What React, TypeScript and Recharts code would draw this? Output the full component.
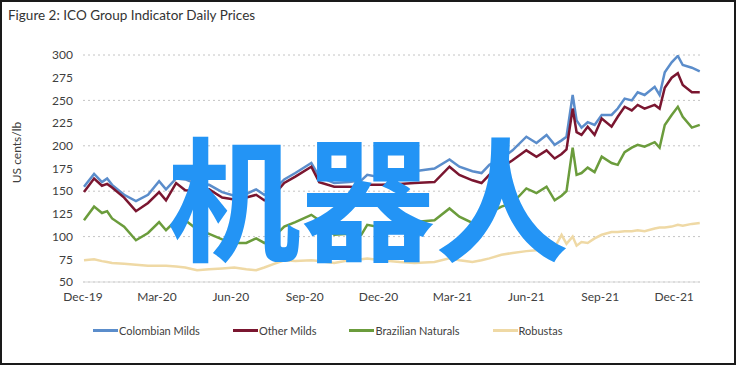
import { LineChart, Line, XAxis, YAxis, CartesianGrid, Legend } from 'recharts';

// months since Dec-19
const months = [
  0.04, 0.45, 0.77, 0.98, 1.18, 1.67, 2.15, 2.64, 3.09, 3.37, 3.78, 4.15, 4.63, 5.12, 5.65, 6.14,
  6.63, 7.03, 7.36, 7.76, 8.17, 8.62, 9.27, 9.59, 10.2, 10.81, 11.3, 11.54, 12.11, 12.85, 13.46,
  14.27, 14.88, 15.28, 15.81, 16.18, 16.5, 16.99, 17.44, 18.0, 18.41, 18.82, 19.15, 19.43, 19.63,
  19.88, 20.04, 20.24, 20.49, 20.77, 21.06, 21.46, 21.71, 21.99, 22.28, 22.52, 22.8, 23.21, 23.41,
  23.62, 23.9, 24.15, 24.35, 24.72, 25.04,
];

const colombianMilds = [
  155, 169, 160, 164, 157, 146, 139, 146, 161, 152, 164, 163, 158, 157, 149, 145,
  147, 152, 146, 152, 163, 170, 181, 166, 159, 160, 162, 168, 165, 168, 172,
  175, 185, 177, 172, 170, 179, 186, 195, 210, 203, 212, 201, 206, 210,
  256, 228, 220, 226, 223, 234, 234, 241, 252, 250, 259, 256, 265, 256,
  281, 292, 299, 289, 286, 282,
];

const otherMilds = [
  149, 164, 156, 158, 154, 143, 128, 137, 149, 140, 159, 151, 150, 152, 143, 141,
  143, 146, 140, 146, 159, 166, 177, 160, 155, 155, 154, 157, 157, 158, 159,
  160, 177, 168, 162, 159, 168, 176, 184, 195, 188, 195, 186, 191, 196,
  241, 215, 212, 221, 212, 230, 221, 232, 243, 239, 245, 241, 245, 241,
  264, 275, 280, 267, 259, 259,
];

const brazilianNaturals = [
  118, 133, 126, 128, 120, 111, 96, 104, 116, 107, 118, 118, 108, 103, 97, 93,
  93, 98, 93, 100, 111, 116, 124, 118, 102, 103, 102, 113, 110, 112, 116,
  118, 131, 122, 115, 117, 126, 133, 137, 153, 148, 155, 140, 145, 150,
  198, 168, 170, 176, 171, 188, 181, 179, 193, 198, 201, 199, 204, 198,
  223, 234, 243, 232, 220, 223,
];

const robustas = [
  74, 75, 73, 72, 71, 70, 69, 68, 68, 68, 67, 66, 63, 64, 65, 66,
  64, 63, 66, 70, 74, 73, 74, 73, 71, 74, 75, 76, 74, 72, 71,
  72, 76, 74, 72, 74, 76, 80, 82, 84, 85, 86, 88, 102, 92,
  100, 90, 94, 93, 98, 102, 105, 105, 106, 106, 107, 106, 109, 110,
  110, 111, 113, 112, 114, 115,
];

const tickMonths = [0, 3, 6, 9, 12, 15, 18, 21, 24];
const tickLabels = ['Dec-19', 'Mar-20', 'Jun-20', 'Sep-20', 'Dec-20', 'Mar-21', 'Jun-21', 'Sep-21', 'Dec-21'];
const yTicks = [50, 75, 100, 125, 150, 175, 200, 225, 250, 275, 300];

const SERIES = [
  { key: 'colombian', name: 'Colombian Milds', color: '#5b8dcb', values: colombianMilds },
  { key: 'other', name: 'Other Milds', color: '#7a1630', values: otherMilds },
  { key: 'brazilian', name: 'Brazilian Naturals', color: '#6b9c3c', values: brazilianNaturals },
  { key: 'robustas', name: 'Robustas', color: '#efd9a5', values: robustas },
];

const data = months.map((m, i) => {
  const row: Record<string, number> = { m };
  SERIES.forEach((s) => {
    row[s.key] = s.values[i];
  });
  return row;
});

const FONT = 'Lato, "Open Sans", sans-serif';

function renderLegend(props: any) {
  const payload = [...(props.payload || [])].sort(
    (a: any, b: any) =>
      SERIES.findIndex((s) => s.name === a.value) - SERIES.findIndex((s) => s.name === b.value)
  );
  return (
    <div style={{ display: 'flex', alignItems: 'center', height: 40, paddingLeft: 93, fontFamily: FONT, fontSize: 11, color: '#404040' }}>
      {payload.map((p: any) => (
        <div key={p.value} style={{ display: 'flex', alignItems: 'center', marginRight: 33 }}>
          <span style={{ display: 'inline-block', width: 25, height: 3, background: p.color, marginRight: 1 }} />
          <span>{p.value}</span>
        </div>
      ))}
    </div>
  );
}

export default function App() {
  return (
    <div style={{ position: 'absolute', left: 0, top: 0, width: 736, height: 365, background: '#fff', overflow: 'hidden' }}>
      <div style={{ position: 'absolute', left: 8, top: 7, fontFamily: FONT, fontSize: 13.5, color: '#333' }}>
        Figure 2: ICO Group Indicator Daily Prices
      </div>
      <div style={{ position: 'absolute', left: 0, top: 0 }}>
        <LineChart width={736} height={365} data={data} margin={{ top: 55, right: 36, bottom: 15, left: 0 }}>
          <CartesianGrid vertical={false} stroke="#c4c4c4" strokeDasharray="2 3" />
          <XAxis
            dataKey="m"
            type="number"
            domain={[0, 25.05]}
            ticks={tickMonths}
            tickFormatter={(v: number) => tickLabels[tickMonths.indexOf(v)]}
            height={28}
            tickLine={false}
            tickSize={0}
            tickMargin={10}
            axisLine={{ stroke: '#d9d9d9' }}
            tick={{ fill: '#404040', fontSize: 12, fontFamily: FONT }}
          />
          <YAxis
            domain={[50, 300]}
            ticks={yTicks}
            allowDataOverflow
            width={83}
            tickLine={false}
            tickSize={0}
            tickMargin={10}
            axisLine={false}
            tick={{ fill: '#404040', fontSize: 12, fontFamily: FONT }}
            label={{
              value: 'US cents/lb',
              angle: -90,
              position: 'insideLeft',
              offset: 17,
              dy: -16,
              style: { textAnchor: 'middle', fill: '#404040', fontSize: 12, fontFamily: FONT },
            }}
          />
          <Legend verticalAlign="bottom" height={40} content={renderLegend} />
          {SERIES.map((s) => (
            <Line
              key={s.key}
              dataKey={s.key}
              name={s.name}
              stroke={s.color}
              strokeWidth={2.5}
              dot={false}
              type="linear"
              isAnimationActive={false}
            />
          ))}
        </LineChart>
      </div>
      <div
        style={{
          position: 'absolute',
          left: 0,
          width: 736,
          top: 126,
          textAlign: 'center',
          fontFamily: '"Noto Sans CJK SC", sans-serif',
          fontWeight: 700,
          fontSize: 134,
          lineHeight: 1,
          color: '#2394f5',
          pointerEvents: 'none',
        }}
      >
        机器人
      </div>
      <div style={{ position: 'absolute', inset: 0, border: '2px solid #1a1a1a', pointerEvents: 'none' }} />
    </div>
  );
}
